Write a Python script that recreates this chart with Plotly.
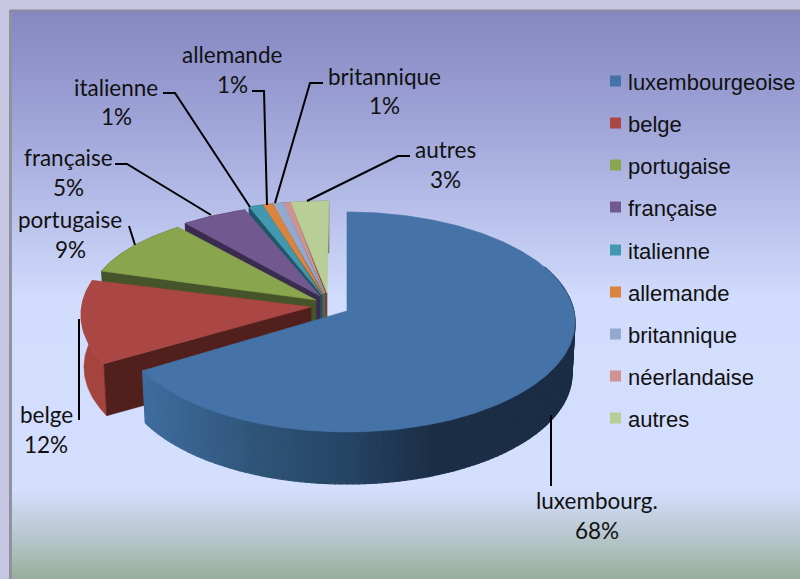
import numpy as np
import plotly.graph_objects as go

# ---- data ----
categories = ["luxembourgeoise", "belge", "portugaise", "française", "italienne",
              "allemande", "britannique", "néerlandaise", "autres"]
shares = [67.7, 12.4, 9.4, 4.8, 1.0, 0.75, 0.75, 0.5, 2.7]
colors = ["#4572A7", "#AA4643", "#89A54E", "#71588F", "#4198AF",
          "#DB843D", "#93A9CF", "#D19392", "#B9CD96"]
side_colors = ["#26446A", "#A5433F", "#48582A", "#3A2C4E", "#1F5666",
               "#7A4A20", "#55617A", "#7A5554", "#6A7550"]
face_colors = ["#26446A", "#52201C", "#45542A", "#3A2C4E", "#1F5666",
               "#7A4A20", "#55617A", "#7A5554", "#5C4A30"]
label_names = {"luxembourgeoise": "luxembourg.", "belge": "belge", "portugaise": "portugaise",
               "française": "française", "italienne": "italienne", "allemande": "allemande",
               "britannique": "britannique", "autres": "autres"}

# ---- layout of the fake-3D pie: pixel-space geometry, not data ----
W, H = 800, 579
DEPTH = 52
apex_x = [347, 311, 316, 320, 322, 323, 324, 325, 327]
apex_y = [311, 307, 300, 296, 295, 294, 293, 293, 293]
ell_cx = [347, 303, 318, 325, 329, 329, 329, 329, 329]
ell_cy = [322, 315, 300, 296, 293, 293, 293, 293, 293]
ell_rx = [228, 222, 228, 228, 228, 228, 228, 228, 228]
ell_ry = [110, 110, 92, 92, 92, 92, 92, 92, 92]

label_pos = {"luxembourgeoise": (597, 500, 530), "belge": (46, 414, 444), "portugaise": (70, 219, 249),
             "française": (68, 157, 187), "italienne": (116, 87, 116), "allemande": (232, 54, 84),
             "britannique": (384, 76, 105), "autres": (445, 149, 179)}
leaders = [
    [(551, 415), (551, 486)],
    [(79, 319), (79, 420)],
    [(129, 226), (135, 245)],
    [(115, 164), (127, 164), (211, 215)],
    [(163, 93), (175, 93), (250, 207)],
    [(252, 91), (264, 91), (267, 205)],
    [(323, 83), (310, 83), (275, 203)],
    [(410, 156), (398, 156), (307, 201)],
]
legend_swatch_y = [81, 123, 165, 207, 250, 292, 334, 376, 418]

bg_stops = [(11, "#8587C1"), (100, "#999ED3"), (200, "#B4BCE8"), (300, "#D2DCFC"),
            (490, "#D4DEFD"), (535, "#B8C8CF"), (579, "#98AE9A")]
rim_stops = [(143, (63, 109, 158)), (260, (47, 84, 120)), (350, (38, 68, 100)),
             (430, (28, 47, 71)), (580, (27, 45, 69))]

fig = go.Figure()

# background gradient
edges = np.arange(11, 580, 2.0)
fig.add_trace(go.Heatmap(
    x=[11, 800], y=edges, z=[[v] for v in (edges[:-1] + edges[1:]) / 2],
    zmin=11, zmax=579, showscale=False, hoverinfo="skip",
    colorscale=[[(y - 11) / (579 - 11), c] for y, c in bg_stops]))


def poly(xs, ys, color, width=0.6):
    fig.add_trace(go.Scatter(x=list(xs), y=list(ys), mode="lines", fill="toself", fillcolor=color,
                             line=dict(color=color, width=width), hoverinfo="skip", showlegend=False))


def top_pts(i, t):
    return ell_cx[i] + ell_rx[i] * np.sin(t), ell_cy[i] - ell_ry[i] * np.cos(t)


def bot_pts(i, t):
    return ell_cx[i] + (ell_rx[i] - 3) * np.sin(t), ell_cy[i] + DEPTH - ell_ry[i] * np.cos(t)


def rim_rgb(x):
    xp = [s[0] for s in rim_stops]
    return "rgb(%d,%d,%d)" % tuple(np.interp(x, xp, [s[1][k] for s in rim_stops]) for k in range(3))


total = sum(shares)
cum = np.cumsum([0] + shares) / total * 2 * np.pi
# slices are painted back to front: the last share first, the big one last
for i in range(len(shares) - 1, -1, -1):
    t0, t1 = cum[i], cum[i + 1]
    t = np.linspace(t0, t1, max(6, int((t1 - t0) * 80)))
    if i == 0:
        # shaded outer wall of the large slice, painted right to left so each band overlaps the last
        bounds = np.arange(np.radians(60), t1 + 1e-6, np.radians(1.5))
        bounds = np.append(bounds, t1)
        for a, b in zip(bounds[:-1], bounds[1:]):
            tt = np.linspace(a, b, 3)
            xa, ya = top_pts(i, tt)
            xb, yb = bot_pts(i, tt[::-1])
            poly(np.r_[xa, xb, xa[0]], np.r_[ya, yb, ya[0]], rim_rgb(xa.mean()), width=1.2)
    else:
        xa, ya = top_pts(i, t)
        xb, yb = bot_pts(i, t[::-1])
        poly(np.r_[xa, xb, xa[0]], np.r_[ya, yb, ya[0]], side_colors[i])
        # cut face along the start edge
        sx, sy = top_pts(i, t0)
        bx, by = bot_pts(i, t0)
        poly([apex_x[i], sx, bx, apex_x[i], apex_x[i]],
             [apex_y[i], sy, by, apex_y[i] + DEPTH, apex_y[i]], face_colors[i])
    xa, ya = top_pts(i, t)
    poly(np.r_[apex_x[i], xa, apex_x[i]], np.r_[apex_y[i], ya, apex_y[i]], colors[i])

# leader lines
for pts in leaders:
    fig.add_trace(go.Scatter(x=[p[0] for p in pts], y=[p[1] for p in pts], mode="lines",
                             line=dict(color="#000000", width=2), hoverinfo="skip", showlegend=False))

# legend swatches
fig.add_trace(go.Scatter(x=[615.5] * len(categories), y=legend_swatch_y, mode="markers",
                         marker=dict(symbol="square", size=11, color=colors, line=dict(width=0)),
                         hoverinfo="skip", showlegend=False))

annotations = []
for name, share in zip(categories, shares):
    if name not in label_names:
        continue
    x, y1, y2 = label_pos[name]
    for txt, yy in ((label_names[name], y1), ("%d%%" % round(share), y2)):
        annotations.append(dict(x=x, y=yy, text=txt, showarrow=False, xanchor="center", yanchor="middle",
                                font=dict(family="Lato", size=22.5, color="#111111")))
for name, yy in zip(categories, legend_swatch_y):
    annotations.append(dict(x=626, y=yy + 1, text=name, showarrow=False, xanchor="left", yanchor="middle",
                            font=dict(family="Liberation Sans", size=22, color="#111111")))

fig.update_layout(
    width=W, height=H, margin=dict(l=0, r=0, t=0, b=0),
    paper_bgcolor="#C6C6E2", plot_bgcolor="#C6C6E2", showlegend=False,
    xaxis=dict(range=[0, W], visible=False, fixedrange=True),
    yaxis=dict(range=[H, 0], visible=False, fixedrange=True),
    annotations=annotations,
    shapes=[
        dict(type="line", x0=10.5, x1=10.5, y0=10, y1=579, line=dict(color="#92929F", width=3), layer="above"),
        dict(type="line", x0=10, x1=800, y0=11, y1=11, line=dict(color="#8A8AA6", width=3), layer="above"),
    ],
)
fig.write_html("out.html", config=dict(displayModeBar=False),
               post_script="document.body.style.margin='0';document.body.style.overflow='hidden';")
